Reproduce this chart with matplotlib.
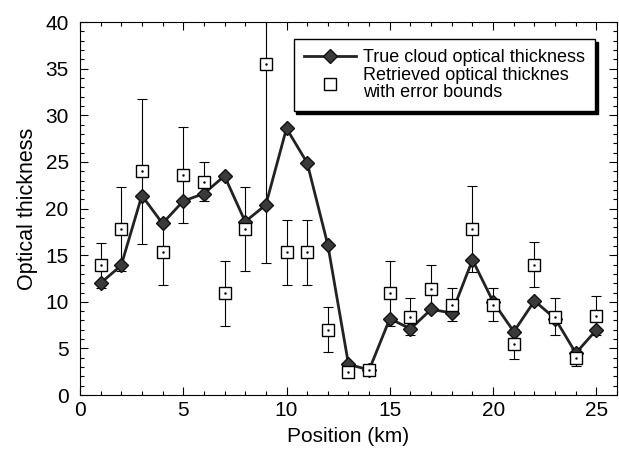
import matplotlib

matplotlib.use("Agg")
import matplotlib.pyplot as plt
from matplotlib.ticker import MultipleLocator
import numpy as np

# data
position_km = np.arange(1, 26)
true_tau = [12.0, 13.9, 21.4, 18.4, 20.8, 21.6, 23.5, 18.6, 20.4, 28.6,
            24.9, 16.1, 3.3, 2.7, 8.2, 7.1, 9.2, 8.8, 14.5, 10.0,
            6.8, 10.1, 8.2, 4.5, 7.0]
retrieved_tau = [13.9, 17.8, 24.0, 15.3, 23.6, 22.9, 10.9, 17.8, 35.5, 15.3,
                 15.3, 7.0, 2.5, 2.7, 10.9, 8.4, 11.4, 9.7, 17.8, 9.7,
                 5.5, 14.0, 8.4, 4.0, 8.5]
retrieved_err = [2.4, 4.5, 7.8, 3.5, 5.1, 2.1, 3.5, 4.5, 21.3, 3.5,
                 3.5, 2.4, 0.3, 0.3, 3.5, 2.0, 2.5, 1.8, 4.6, 1.8,
                 1.6, 2.4, 2.0, 0.9, 2.1]

plt.rcParams["font.family"] = ["Liberation Sans", "DejaVu Sans"]

fig = plt.figure(figsize=(6.19, 4.5), dpi=100)
ax = fig.add_axes([0.129, 0.122, 0.868, 0.829])

ax.errorbar(position_km, retrieved_tau, yerr=retrieved_err, fmt="none",
            ecolor="black", elinewidth=0.8, capsize=3.5, capthick=0.8, zorder=2)
ax.plot(position_km, true_tau, color="#222222", lw=2.0, marker="D", ms=7.5,
        mfc="#3a3a3a", mec="#111111", mew=1.0, zorder=3,
        label="True cloud optical thickness")
ax.plot(position_km, retrieved_tau, ls="none", marker="s", ms=9,
        mfc="white", mec="black", mew=1.0, zorder=4,
        label="Retrieved optical thicknes\nwith error bounds")
ax.plot(position_km, retrieved_tau, ls="none", marker=".", ms=1.5,
        color="black", zorder=5)

ax.set_xlim(0, 26)
ax.set_ylim(0, 40)
ax.xaxis.set_major_locator(MultipleLocator(5))
ax.xaxis.set_minor_locator(MultipleLocator(1))
ax.yaxis.set_major_locator(MultipleLocator(5))
ax.yaxis.set_minor_locator(MultipleLocator(1))
ax.tick_params(which="both", direction="in", top=True, right=True,
               labelsize=15, width=0.8)
ax.tick_params(which="major", length=6)
ax.tick_params(which="minor", length=3)
ax.tick_params(axis="y", which="major", pad=8)
ax.tick_params(axis="x", which="major", pad=4)
for spine in ax.spines.values():
    spine.set_linewidth(0.8)

ax.set_xlabel("Position (km)", fontsize=15, labelpad=5)
ax.set_ylabel("Optical thickness", fontsize=15.5, labelpad=5)

leg = ax.legend(loc="upper right", bbox_to_anchor=(0.959, 0.954),
                borderaxespad=0, fontsize=13, frameon=True, fancybox=False,
                framealpha=1, edgecolor="black",
                shadow={"color": "black", "alpha": 1}, borderpad=0.55,
                handlelength=2.9, handletextpad=0.4, labelspacing=0.05)
leg.get_frame().set_linewidth(1.0)
for text in leg.get_texts():
    text.set_linespacing(1.0)

fig.savefig("out.png", dpi=100)
